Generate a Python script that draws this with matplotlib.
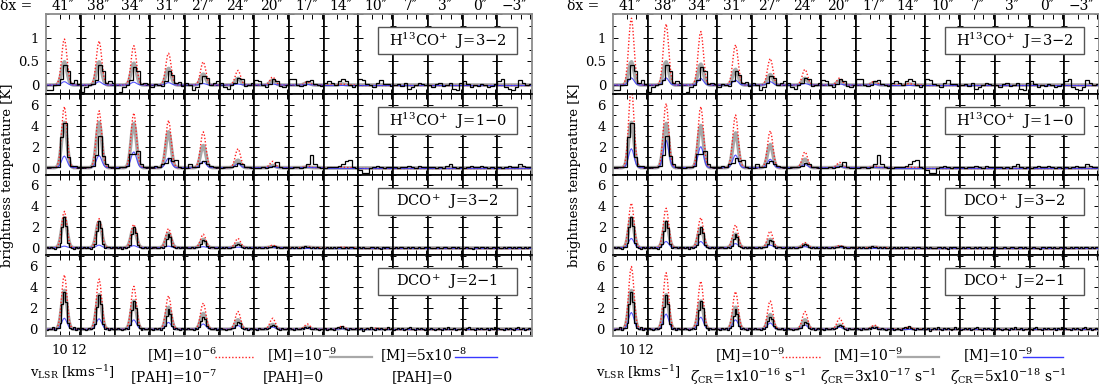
import matplotlib

matplotlib.use("Agg")
import matplotlib.pyplot as plt
from matplotlib.lines import Line2D
from matplotlib.patches import Rectangle
from matplotlib.ticker import MultipleLocator

plt.rcParams["font.family"] = ["DejaVu Serif"]
plt.rcParams["mathtext.fontset"] = "dejavuserif"

# ---- data -------------------------------------------------------------
offsets = ["41″", "38″", "34″", "31″", "27″", "24″", "20″", "17″", "14″",
           "10″", "7″", "3″", "0″", "−3″"]
transitions = ["H$^{13}$CO$^{+}$  J=3−2", "H$^{13}$CO$^{+}$  J=1−0",
               "DCO$^{+}$  J=3−2", "DCO$^{+}$  J=2−1"]
row_ylim = [(-0.19, 1.5), (-0.7, 7.0), (-0.7, 7.0), (-0.65, 7.1)]

# channel edges of the observed spectra (km/s)
edges_coarse = [8.6, 8.96, 9.32, 9.68, 10.04, 10.4, 10.76, 11.12, 11.48, 11.84, 12.2]
edges_fine = [8.6, 8.8, 9.0, 9.2, 9.4, 9.6, 9.8, 10.0, 10.2, 10.4, 10.6, 10.8,
              11.0, 11.2, 11.4, 11.6, 11.8, 12.0, 12.2]

# observed spectra, one list per offset (shared by both panels)
obs_h13co_32 = [
    [-0.1, -0.1, 0.0, 0.0, 0.12, 0.42, 0.3, 0.05, 0.1, 0.02],
    [-0.15, -0.05, 0.0, 0.02, 0.1, 0.42, 0.3, 0.05, 0.08, 0.05],
    [-0.2, -0.15, -0.05, 0.0, 0.1, 0.38, 0.3, 0.02, 0.05, 0.03],
    [-0.05, 0.02, 0.0, -0.02, 0.08, 0.3, 0.22, 0.05, 0.07, -0.03],
    [0.05, 0.0, -0.1, -0.05, 0.05, 0.2, 0.15, 0.0, 0.05, 0.08],
    [0.05, -0.05, -0.08, 0.0, 0.05, 0.15, 0.12, -0.03, 0.0, 0.05],
    [0.1, 0.08, 0.0, -0.05, 0.03, 0.12, 0.08, -0.03, -0.05, 0.0],
    [0.12, 0.12, 0.0, -0.03, 0.0, 0.08, 0.1, 0.03, 0.0, -0.03],
    [0.05, 0.08, 0.05, 0.0, 0.08, 0.12, 0.08, 0.0, -0.05, 0.0],
    [0.12, 0.1, 0.02, 0.0, -0.05, 0.05, 0.1, 0.02, 0.03, -0.03],
    [0.0, 0.03, -0.02, 0.05, -0.08, -0.05, 0.0, 0.05, 0.02, 0.0],
    [0.0, -0.05, 0.02, 0.05, -0.03, 0.0, 0.05, -0.08, -0.1, 0.05],
    [0.08, 0.02, -0.05, 0.0, -0.03, 0.02, 0.0, -0.05, -0.03, 0.03],
    [0.08, 0.12, -0.05, -0.08, -0.1, -0.05, 0.1, 0.05, 0.0, 0.03],
]
obs_h13co_10 = [
    [0.1, 0.1, 0.05, 0.1, 2.9, 4.2, 1.0, 0.2, 0.15, 0.1],
    [0.05, 0.1, 0.05, 0.15, 1.2, 3.0, 1.1, 0.3, 0.1, 0.05],
    [0.0, 0.05, 0.1, 0.15, 1.3, 1.3, 1.6, 0.3, 0.05, 0.1],
    [0.1, 0.15, 0.1, 0.3, 0.4, 0.9, 0.6, 0.7, 0.1, 0.0],
    [0.0, 0.3, 0.1, 0.1, 0.4, 0.6, 0.3, 0.2, 0.1, 0.05],
    [0.0, 0.05, 0.1, 0.1, 0.15, 0.4, 0.3, 0.1, 0.05, 0.0],
    [0.0, 0.0, 0.1, 0.0, 0.05, 0.2, 0.5, 0.1, 0.0, 0.0],
    [0.0, 0.05, 0.1, 0.0, 0.1, 0.3, 1.2, 0.3, 0.05, 0.0],
    [0.0, 0.05, 0.1, 0.1, 0.2, 0.3, 0.6, 0.7, 0.1, 0.0],
    [-0.2, -0.5, -0.5, 0.0, 0.1, 0.2, 0.1, 0.0, 0.1, 0.05],
    [0.1, 0.0, 0.1, 0.05, 0.2, 0.1, 0.0, 0.15, 0.1, 0.05],
    [0.05, 0.1, 0.0, 0.1, 0.0, 0.15, 0.3, 0.1, 0.0, 0.05],
    [0.0, 0.1, 0.15, 0.05, 0.1, 0.2, 0.1, 0.0, 0.1, 0.0],
    [0.1, 0.0, 0.05, 0.2, 0.1, 0.1, 0.3, 0.2, 0.05, 0.1],
]
obs_dco_32 = [
    [0.05, -0.05, 0.1, 0.0, -0.1, 0.05, 0.1, 0.5, 2.0, 3.0, 2.1, 0.5, 0.1, 0.0, -0.1, 0.05, 0.0, 0.1],
    [0.0, 0.1, -0.05, 0.05, 0.0, -0.1, 0.1, 0.4, 1.6, 2.6, 1.9, 0.4, 0.0, 0.1, 0.05, -0.05, 0.1, 0.0],
    [0.1, 0.0, 0.05, -0.1, 0.05, 0.0, 0.05, 0.3, 1.3, 2.0, 1.4, 0.3, 0.1, -0.05, 0.0, 0.1, 0.0, 0.05],
    [0.0, 0.05, 0.1, 0.0, -0.05, 0.1, 0.0, 0.2, 0.8, 1.3, 1.0, 0.2, 0.05, 0.0, 0.1, -0.05, 0.05, 0.0],
    [0.05, 0.0, -0.05, 0.1, 0.0, 0.05, 0.1, 0.1, 0.4, 0.7, 0.6, 0.15, 0.0, 0.05, 0.1, 0.0, -0.05, 0.05],
    [0.0, 0.1, 0.0, 0.05, -0.05, 0.0, 0.05, 0.1, 0.25, 0.4, 0.3, 0.1, 0.0, 0.05, 0.0, 0.1, 0.0, -0.05],
    [0.05, 0.0, 0.1, -0.05, 0.0, 0.05, 0.0, 0.1, 0.1, 0.15, 0.2, 0.0, 0.05, -0.05, 0.0, 0.05, 0.1, 0.0],
    [0.0, 0.05, 0.0, 0.1, 0.0, -0.05, 0.1, 0.0, 0.2, 0.1, 0.05, 0.0, 0.1, 0.0, 0.05, -0.05, 0.0, 0.05],
    [0.0, 0.05, -0.05, 0.1, 0.0, 0.05, 0.0, 0.1, 0.05, 0.0, -0.05, 0.1, 0.0, 0.05, 0.1, 0.0, -0.05, 0.05],
    [0.05, 0.0, 0.1, 0.0, -0.05, 0.0, 0.05, 0.1, 0.0, 0.05, 0.0, -0.1, 0.05, 0.0, 0.1, 0.05, 0.0, 0.0],
    [0.0, 0.1, 0.0, 0.05, 0.1, -0.05, 0.0, 0.05, 0.0, 0.1, 0.05, 0.0, -0.05, 0.1, 0.0, 0.0, 0.05, 0.1],
    [0.1, 0.0, -0.05, 0.0, 0.05, 0.1, 0.0, 0.0, 0.1, 0.05, -0.05, 0.0, 0.1, 0.05, 0.0, 0.1, 0.0, -0.05],
    [0.0, 0.05, 0.1, 0.0, 0.0, -0.1, 0.05, 0.1, 0.0, 0.05, 0.1, 0.0, 0.05, -0.05, 0.0, 0.1, 0.05, 0.0],
    [0.05, 0.0, 0.0, 0.1, -0.05, 0.05, 0.1, 0.0, 0.05, 0.0, 0.1, 0.05, -0.05, 0.0, 0.1, 0.0, 0.05, 0.1],
]
obs_dco_21 = [
    [-0.1, 0.05, 0.0, 0.2, -0.05, 0.1, 0.15, 0.6, 2.4, 3.6, 2.6, 0.6, 0.1, 0.0, 0.2, -0.1, 0.1, 0.0],
    [0.1, 0.0, -0.1, 0.05, 0.1, 0.0, 0.1, 0.5, 2.1, 3.3, 2.4, 0.5, 0.0, 0.15, -0.05, 0.1, 0.0, -0.1],
    [0.0, 0.1, 0.05, -0.1, 0.0, 0.15, 0.05, 0.4, 1.8, 2.7, 2.0, 0.4, 0.1, -0.05, 0.1, 0.0, 0.05, 0.1],
    [0.05, -0.05, 0.1, 0.0, 0.1, -0.1, 0.1, 0.3, 1.3, 1.9, 1.5, 0.3, 0.0, 0.1, 0.0, -0.05, 0.1, 0.0],
    [0.0, 0.1, 0.0, 0.05, -0.05, 0.1, 0.0, 0.2, 0.8, 1.2, 1.0, 0.3, 0.1, 0.0, 0.05, 0.1, -0.05, 0.05],
    [0.1, 0.0, 0.05, -0.1, 0.05, 0.0, 0.1, 0.15, 0.45, 0.7, 0.55, 0.15, 0.0, 0.1, -0.05, 0.0, 0.1, 0.0],
    [0.0, -0.1, 0.1, 0.0, 0.05, 0.1, 0.0, 0.1, 0.3, 0.4, 0.35, 0.1, 0.05, -0.05, 0.1, 0.0, 0.0, 0.1],
    [0.1, 0.0, -0.05, 0.1, 0.0, 0.05, 0.1, 0.0, 0.2, 0.15, 0.2, 0.05, 0.0, 0.1, 0.0, -0.1, 0.05, 0.0],
    [0.1, -0.1, 0.0, 0.15, 0.05, -0.05, 0.1, 0.2, 0.1, 0.3, 0.1, 0.0, -0.1, 0.1, 0.05, 0.0, 0.15, -0.05],
    [0.0, 0.1, -0.15, 0.05, 0.1, 0.0, 0.2, 0.05, -0.05, 0.1, 0.0, 0.15, 0.0, -0.1, 0.05, 0.2, 0.0, 0.1],
    [-0.1, 0.05, 0.1, 0.0, 0.15, -0.05, 0.0, 0.1, 0.2, 0.05, 0.0, -0.1, 0.1, 0.05, 0.15, 0.0, -0.05, 0.1],
    [0.05, 0.15, 0.0, -0.1, 0.0, 0.1, 0.05, -0.05, 0.1, 0.0, 0.2, 0.05, 0.0, 0.1, -0.1, 0.05, 0.0, 0.15],
    [0.0, -0.05, 0.1, 0.2, 0.0, 0.05, -0.1, 0.1, 0.0, 0.15, 0.05, 0.0, 0.1, -0.05, 0.1, 0.0, 0.2, 0.0],
    [0.1, 0.0, 0.05, -0.1, 0.1, 0.0, 0.15, 0.05, -0.05, 0.1, 0.2, 0.0, 0.05, 0.1, -0.1, 0.0, 0.1, 0.05],
]

# normalised model line shape
model_vel = [8.6, 8.72, 8.84, 8.96, 9.08, 9.2, 9.32, 9.44, 9.56, 9.68, 9.8, 9.92,
             10.04, 10.16, 10.28, 10.4, 10.52, 10.64, 10.76, 10.88, 11.0, 11.12,
             11.24, 11.36, 11.48, 11.6, 11.72, 11.84, 11.96, 12.08, 12.2]
model_shape = [0, 0, 0, 0, 0, 0, 0, 0, 0.003, 0.012, 0.04, 0.11, 0.25, 0.47, 0.73,
               0.94, 1.0, 0.88, 0.64, 0.39, 0.19, 0.08, 0.03, 0.01, 0, 0, 0, 0, 0, 0, 0]

# model peak temperatures per transition (rows) and offset (columns)
left_red = [
    [0.97, 0.93, 0.83, 0.67, 0.49, 0.31, 0.17, 0.07, 0.02, 0, 0, 0, 0, 0],
    [5.8, 5.4, 5.2, 4.5, 3.4, 1.8, 0.6, 0.15, 0.05, 0, 0, 0, 0, 0],
    [3.5, 2.8, 2.25, 1.85, 1.3, 0.9, 0.25, 0.1, 0.05, 0, 0, 0, 0, 0],
    [5.2, 4.8, 4.1, 3.2, 2.5, 1.7, 1.05, 0.5, 0.3, 0.1, 0, 0, 0, 0],
]
left_grey = [
    [0.49, 0.49, 0.46, 0.35, 0.23, 0.14, 0.1, 0.05, 0.02, 0, 0, 0, 0, 0],
    [4.3, 4.3, 4.2, 3.4, 2.1, 0.7, 0.2, 0.05, 0, 0, 0, 0, 0, 0],
    [2.9, 2.5, 1.9, 1.4, 0.8, 0.4, 0.1, 0.05, 0, 0, 0, 0, 0, 0],
    [3.7, 3.3, 2.7, 2.1, 1.5, 0.9, 0.45, 0.2, 0.1, 0, 0, 0, 0, 0],
]
left_blue = [
    [0.07, 0.07, 0.06, 0.05, 0.03, 0.02, 0.02, 0.01, 0, 0, 0, 0, 0, 0],
    [1.1, 1.15, 1.5, 0.9, 0.6, 0.35, 0.1, 0.03, 0, 0, 0, 0, 0, 0],
    [0.15, 0.25, 0.2, 0.15, 0.1, 0.05, 0.02, 0, 0, 0, 0, 0, 0, 0],
    [1.05, 1.0, 0.9, 0.65, 0.5, 0.35, 0.2, 0.1, 0.05, 0, 0, 0, 0, 0],
]
right_red = [
    [1.41, 1.29, 1.13, 0.85, 0.56, 0.33, 0.15, 0.08, 0.03, 0, 0, 0, 0, 0],
    [7.6, 6.1, 5.8, 5.0, 3.5, 1.5, 0.5, 0.15, 0.05, 0, 0, 0, 0, 0],
    [4.3, 3.8, 2.9, 2.2, 1.6, 0.5, 0.2, 0.1, 0, 0, 0, 0, 0, 0],
    [6.0, 5.4, 4.6, 3.6, 2.7, 1.7, 1.05, 0.4, 0.2, 0, 0, 0, 0, 0],
]
right_grey = [
    [0.49, 0.49, 0.44, 0.33, 0.22, 0.14, 0.09, 0.05, 0.02, 0, 0, 0, 0, 0],
    [4.3, 4.2, 4.0, 3.3, 2.2, 0.8, 0.2, 0.05, 0, 0, 0, 0, 0, 0],
    [2.9, 2.5, 1.9, 1.3, 0.8, 0.3, 0.1, 0.05, 0, 0, 0, 0, 0, 0],
    [3.7, 3.3, 2.7, 2.1, 1.4, 0.9, 0.4, 0.2, 0.1, 0, 0, 0, 0, 0],
]
right_blue = [
    [0.15, 0.15, 0.14, 0.1, 0.07, 0.03, 0.02, 0.01, 0, 0, 0, 0, 0, 0],
    [1.8, 2.6, 2.0, 1.2, 0.8, 0.3, 0.1, 0.03, 0, 0, 0, 0, 0, 0],
    [0.9, 0.6, 0.6, 0.4, 0.25, 0.1, 0.05, 0, 0, 0, 0, 0, 0, 0],
    [1.6, 1.45, 1.15, 0.9, 0.6, 0.4, 0.2, 0.1, 0, 0, 0, 0, 0, 0],
]

left_top = ["[M]=10$^{-6}$", "[M]=10$^{-9}$", "[M]=5x10$^{-8}$"]
left_bottom = ["[PAH]=10$^{-7}$", "[PAH]=0", "[PAH]=0"]
right_top = ["[M]=10$^{-9}$", "[M]=10$^{-9}$", "[M]=10$^{-9}$"]
right_bottom = ["$\\zeta_{\\rm CR}$=1x10$^{-16}$ s$^{-1}$",
                "$\\zeta_{\\rm CR}$=3x10$^{-17}$ s$^{-1}$",
                "$\\zeta_{\\rm CR}$=5x10$^{-18}$ s$^{-1}$"]

# ---- layout (pixels) ---------------------------------------------------
W, H = 1099, 386
COL_W = 34.72
ROW_EDGES = [14, 94, 175, 255, 336]
OUTER = "#8c8c8c"
GREY = "#a8a8a8"
RED = "#ff2020"
BLUE = "#3838ff"

fig = plt.figure(figsize=(W / 100, H / 100), dpi=100)


def fx(px):
    return px / W


def fy(py):
    return 1 - py / H


def draw_panel(x0, red, grey, blue, top_txt, bot_txt, leg):
    observed = [obs_h13co_32, obs_h13co_10, obs_dco_32, obs_dco_21]
    edges = [edges_coarse, edges_coarse, edges_fine, edges_fine]
    for r in range(4):
        y_top, y_bot = ROW_EDGES[r], ROW_EDGES[r + 1]
        for c in range(14):
            left = x0 + c * COL_W
            ax = fig.add_axes([fx(left), fy(y_bot), fx(COL_W), (y_bot - y_top) / H])
            ax.set_xlim(8.6, 12.2)
            ax.set_ylim(*row_ylim[r])
            ax.plot(model_vel, [grey[r][c] * s for s in model_shape],
                    color=GREY, lw=2.6, zorder=1, solid_capstyle="butt")
            ax.plot(model_vel, [red[r][c] * s for s in model_shape],
                    color=RED, lw=1.0, ls=(0, (1, 1.4)), zorder=2)
            ax.plot(model_vel, [blue[r][c] * s for s in model_shape],
                    color=BLUE, lw=0.8, zorder=3, alpha=0.85)
            ax.stairs(observed[r][c], edges[r], color="black", lw=0.9, zorder=4)

            for side, sp in ax.spines.items():
                outer = ((side == "left" and c == 0) or (side == "right" and c == 13)
                         or (side == "top" and r == 0) or (side == "bottom" and r == 3))
                sp.set_color(OUTER if outer else "black")
                sp.set_linewidth(1.3 if outer else 1.2)
                sp.set_zorder(5)

            ax.set_xticks([10, 11, 12])
            if r == 0:
                ax.yaxis.set_major_locator(MultipleLocator(0.5))
                ax.yaxis.set_minor_locator(MultipleLocator(0.25))
            else:
                ax.yaxis.set_major_locator(MultipleLocator(2))
                ax.yaxis.set_minor_locator(MultipleLocator(1))
            ax.tick_params(which="both", direction="in", top=True, bottom=True,
                           left=True, right=True, width=0.7, colors="black",
                           labelsize=9.5, labelbottom=False, labelleft=False)
            ax.tick_params(which="major", length=3.5)
            ax.tick_params(which="minor", length=2)

            if c == 0:
                ax.tick_params(labelleft=True, pad=5)
                if r == 0:
                    ax.set_yticks([0, 0.5, 1])
                    ax.set_yticklabels(["0", "0.5", "1"])
                else:
                    ax.set_yticks([0, 2, 4, 6])
                    ax.set_yticklabels(["0", "2", "4", "6"])
                if r == 3:
                    ax.tick_params(labelbottom=True, pad=6)
                    ax.set_xticklabels(["10", "", "12"])

        # transition label box
        bx0 = x0 + 332
        by0 = y_top + 13
        fig.add_artist(Rectangle((fx(bx0), fy(by0 + 27)), fx(139), 27 / H,
                                 transform=fig.transFigure, facecolor="white",
                                 edgecolor="#555555", lw=1.0, zorder=10))
        fig.text(fx(bx0 + 69.5), fy(by0 + 13.5), transitions[r], fontsize=10.5,
                 ha="center", va="center", zorder=11)

    # column headers
    fig.text(fx(x0 - 46), fy(6.5), "δx =", fontsize=10, ha="left", va="center")
    for c, lab in enumerate(offsets):
        fig.text(fx(x0 + (c + 0.5) * COL_W), fy(6.5), lab, fontsize=10,
                 ha="center", va="center")

    fig.text(fx(x0 - 38), fy(175), "brightness temperature [K]", fontsize=9.5,
             rotation=90, ha="center", va="center")
    fig.text(fx(x0 - 16.5), fy(372), "v$_{\\rm LSR}$ [kms$^{-1}$]", fontsize=9.5,
             ha="left", va="center")

    # legend: model descriptions and line samples
    styles = [dict(color=RED, lw=1.0, ls=(0, (1, 1.4))),
              dict(color=GREY, lw=1.6),
              dict(color=BLUE, lw=1.0)]
    for k in range(3):
        tx, lx0, lx1, bx = leg[k]
        fig.text(fx(x0 + tx), fy(355), top_txt[k], fontsize=10, ha="left", va="center")
        fig.add_artist(Line2D([fx(x0 + lx0), fx(x0 + lx1)], [fy(357), fy(357)],
                              transform=fig.transFigure, **styles[k]))
        fig.text(fx(x0 + bx), fy(377), bot_txt[k], fontsize=10, ha="left", va="center")


draw_panel(46, left_red, left_grey, left_blue, left_top, left_bottom,
           [(101, 169, 209, 84), (221, 284, 326, 217), (334, 409, 451, 346)])
draw_panel(613, right_red, right_grey, right_blue, right_top, right_bottom,
           [(102, 169, 209, 77), (220, 285, 326, 207), (350, 410, 450, 337)])

fig.savefig("out.png", dpi=100)
